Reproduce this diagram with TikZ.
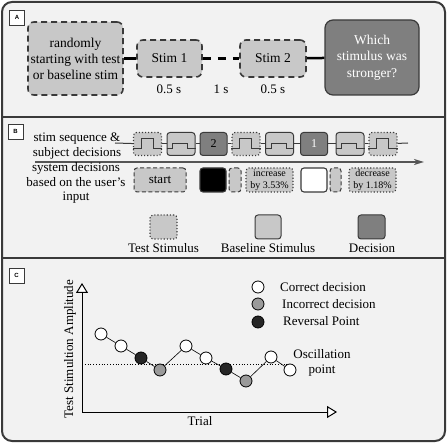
\documentclass[tikz,border=0pt]{standalone}
\usepackage{fontspec}
\setmainfont{Liberation Serif}
\setsansfont{Liberation Sans}
\usetikzlibrary{arrows.meta}
\definecolor{panelbg}{HTML}{F2F2F2}
\definecolor{lightbox}{HTML}{C8C8C8}
\definecolor{darkbox}{HTML}{7F7F7F}
\definecolor{edgec}{HTML}{3A3A3A}
\definecolor{graydot}{HTML}{9A9A9A}
\definecolor{arrowc}{HTML}{555555}
\begin{document}
\begin{tikzpicture}[x=1pt,y=-1pt,
  txt/.style={font=\fontsize{13}{14.5}\selectfont, inner sep=0pt, align=center},
  plabel/.style={draw=edgec, fill=white, line width=0.8pt, minimum width=15pt, minimum height=15pt, inner sep=0pt, font=\sffamily\bfseries\fontsize{6}{6}\selectfont},
  bigdash/.style={draw=edgec, fill=lightbox, line width=1.6pt, dash pattern=on 6pt off 4pt, rounded corners=6pt, inner sep=0pt, align=center, font=\fontsize{13.5}{16}\selectfont},
  decbig/.style={draw=edgec, fill=darkbox, line width=1.2pt, rounded corners=8pt, inner sep=0pt, align=center, text=white, font=\fontsize{13.5}{16.5}\selectfont},
  teststim/.style={draw=edgec, fill=lightbox, line width=1.1pt, dotted, rounded corners=3pt, minimum width=28pt, minimum height=23pt, inner sep=0pt},
  basestim/.style={draw=edgec, fill=lightbox, line width=1pt, rounded corners=3pt, minimum width=28pt, minimum height=23pt, inner sep=0pt},
  decstim/.style={draw=edgec, fill=darkbox, line width=1pt, rounded corners=3pt, minimum width=27pt, minimum height=23pt, inner sep=0pt, font=\fontsize{12}{12}\selectfont},
  sysdash/.style={draw=edgec, fill=lightbox, line width=1pt, dash pattern=on 4pt off 2.5pt, rounded corners=3pt, minimum height=24pt, inner sep=0pt},
  sysdot/.style={draw=edgec, fill=lightbox, line width=1.1pt, dotted, rounded corners=3pt, minimum height=24pt, inner sep=0pt, font=\fontsize{10}{12}\selectfont, align=center},
  syssolid/.style={draw=edgec, line width=1.1pt, rounded corners=3pt, minimum height=24pt, minimum width=26pt, inner sep=0pt},
  pt/.style={circle, draw=black, line width=0.8pt, minimum size=12pt, inner sep=0pt},
  axis/.style={line width=1pt, -{Triangle[open, length=10pt, width=12pt, fill=white]}}
]
\useasboundingbox (0,0) rectangle (447,443);
% frame
\draw[draw=edgec, line width=2pt, fill=panelbg, rounded corners=10pt] (2,2) rectangle (445,441);
\draw[draw=edgec, line width=2pt] (2,117) -- (445,117);
\draw[draw=edgec, line width=2pt] (2,258) -- (445,258);
\node[plabel] (labA) at (17,17.5) {A};
\node[plabel] (labB) at (15.5,131.5) {B};
\node[plabel] (labC) at (16.5,275.5) {C};

% ---------- Panel A
\node[bigdash, minimum width=95pt, minimum height=73pt] (rand) at (75.5,58.5) {randomly\\starting with test\\or baseline stim};
\node[bigdash, minimum width=65pt, minimum height=37pt] (st1) at (169.5,58.5) {Stim 1};
\node[bigdash, minimum width=66pt, minimum height=37pt] (st2) at (273,58.5) {Stim 2};
\node[decbig, minimum width=94pt, minimum height=75pt] (ask) at (372,57.5) {Which\\stimulus was\\stronger?};
\draw[line width=2.5pt, black] (rand) -- (st1);
\draw[line width=2.5pt, black, dash pattern=on 8pt off 7pt] (st1) -- (st2);
\draw[line width=2.5pt, black] (st2) -- (ask);
\node[txt] (t1) at (169,89) {0.5 s};
\node[txt] (t2) at (221,89) {1 s};
\node[txt] (t3) at (273,89) {0.5 s};

% ---------- Panel B
\node[txt] (seqlab) at (77,146) {stim sequence \&\\subject decisions};
\coordinate (seqL) at (115,143);
\coordinate (seqR) at (408,143);
\node[teststim] (s1) at (147.5,144) {};
\node[basestim] (s2) at (181,144) {};
\node[decstim] (s3) at (213.5,144) {2};
\node[teststim] (s4) at (246,144) {};
\node[basestim] (s5) at (279.5,144) {};
\node[decstim, text=white] (s6) at (314,144) {1};
\node[basestim] (s7) at (350,144) {};
\node[teststim] (s8) at (383,144) {};
\draw[line width=1pt, edgec] (seqL) -- (s1);
\foreach \a/\b in {s1/s2,s2/s3,s3/s4,s4/s5,s5/s6,s6/s7,s7/s8} \draw[line width=1pt, edgec] (\a) -- (\b);
\draw[line width=1pt, edgec] (s8) -- (seqR);
% pulses
\foreach \c in {s1,s4,s8} \draw[line width=0.7pt, edgec] ([yshift=-4pt]\c.west) -- ++(8,0) -- ++(0,-10) -- ++(12,0) -- ++(0,10) -- ([yshift=-4pt]\c.east);
\foreach \c in {s2,s5,s7} \draw[line width=0.7pt, edgec] ([yshift=-4pt]\c.west) -- ++(6,0) -- ++(0,-5) -- ++(15,0) -- ++(0,5) -- ([yshift=-4pt]\c.east);
% timeline arrow
\coordinate (arL) at (35,162);
\coordinate (arR) at (424,162);
\draw[arrowc, line width=1.5pt, -{Stealth[length=10pt, width=6pt, inset=3pt]}] (arL) -- (arR);
\node[txt] (syslab) at (76,183) {system decisions\\based on the user’s\\input};
\node[sysdash, minimum width=52pt, font=\fontsize{13}{13}\selectfont] (start) at (160,180) {start};
\node[syssolid, fill=black] (blk) at (213,180) {};
\node[sysdash, minimum width=12pt] (n1) at (235,180) {};
\node[sysdot, minimum width=47pt] (inc) at (269.5,180) {increase\\by 3.53\%};
\node[syssolid, fill=white] (wht) at (314,180) {};
\node[sysdash, minimum width=11pt] (n2) at (335.5,180) {};
\node[sysdot, minimum width=47pt] (dec) at (372.5,180) {decrease\\by 1.18\%};
% legend
\node[teststim, minimum width=27pt, minimum height=24pt] (lg1) at (163.5,227) {};
\node[basestim, minimum width=26pt, minimum height=24pt] (lg2) at (268,227) {};
\node[decstim, minimum width=27pt, minimum height=24pt] (lg3) at (371.5,227) {};
\node[txt] (lt1) at (163.5,248) {Test Stimulus};
\node[txt] (lt2) at (268,248) {Baseline Stimulus};
\node[txt] (lt3) at (372,248) {Decision};

% ---------- Panel C
\coordinate (O) at (82,412);
\coordinate (ytip) at (82,283);
\coordinate (xtip) at (337,412);
\draw[axis] (O) -- (ytip);
\draw[axis] (O) -- (xtip);
\node[txt, rotate=90] (ylab) at (70,349) {Test Stimultion Amplitude};
\node[txt] (xlab) at (200,421) {Trial};
\coordinate (oscL) at (82,364);
\coordinate (oscR) at (293,364);
\draw[line width=0.8pt, dotted] (oscL) -- (oscR);
\node[txt] (osc) at (322,363) {Oscillation\\point};
\node[pt, fill=white] (p1) at (101,334) {};
\node[pt, fill=white] (p2) at (121,346) {};
\node[pt, fill=black!85] (p3) at (141,358) {};
\node[pt, fill=graydot] (p4) at (160,370) {};
\node[pt, fill=white] (p5) at (186,346) {};
\node[pt, fill=white] (p6) at (206,358) {};
\node[pt, fill=black!85] (p7) at (226,369) {};
\node[pt, fill=graydot] (p8) at (246,381) {};
\node[pt, fill=white] (p9) at (271,357) {};
\node[pt, fill=white] (p10) at (290,370) {};
\foreach \a/\b in {p1/p2,p2/p3,p3/p4,p4/p5,p5/p6,p6/p7,p7/p8,p8/p9,p9/p10} \draw[line width=0.6pt] (\a) -- (\b);
\node[pt, fill=white] (c1) at (258,287) {};
\node[pt, fill=graydot] (c2) at (258,304) {};
\node[pt, fill=black!85] (c3) at (258,322) {};
\node[txt, anchor=west] (ct1) at (280,287) {Correct decision};
\node[txt, anchor=west] (ct2) at (282,304) {Incorrect decision};
\node[txt, anchor=west] (ct3) at (283,321) {Reversal Point};
\end{tikzpicture}
\end{document}
